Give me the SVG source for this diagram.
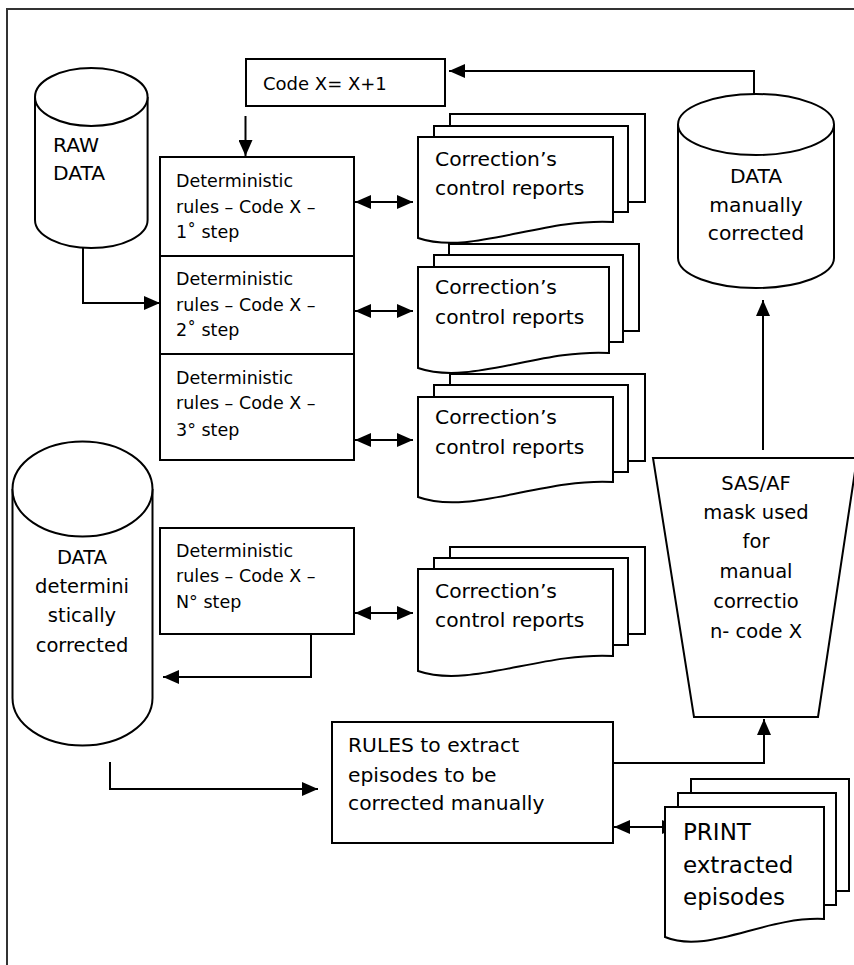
<svg xmlns="http://www.w3.org/2000/svg" width="854" height="965" viewBox="0 0 854 965">
<style>
  .s{fill:#fff;stroke:#000;stroke-width:2}
  .c{fill:none;stroke:#000;stroke-width:2}
  .t{font-family:"DejaVu Sans",sans-serif;font-size:19.5px;fill:#000}
  .r{font-size:20.3px}
  .d{font-family:"DejaVu Sans",sans-serif;font-size:17.5px;fill:#000}
  .m{text-anchor:middle}
</style>
<defs>
  <marker id="ah" viewBox="0 0 16 14" refX="16" refY="7" markerWidth="16" markerHeight="14" orient="auto-start-reverse" markerUnits="userSpaceOnUse">
    <path d="M0,0 L16,7 L0,14 Z" fill="#000"/>
  </marker>
</defs>
<rect width="854" height="965" fill="#fff"/>
<path d="M7,965 V9 H854" fill="none" stroke="#333" stroke-width="2"/>

<g id="connectors">
  <path class="c" d="M245.5,116 V156" marker-end="url(#ah)"/>
  <path class="c" d="M754,94 V71 H449" marker-end="url(#ah)"/>
  <path class="c" d="M83,243 V303 H160" marker-end="url(#ah)"/>
  <path class="c" d="M355,202 H413" marker-start="url(#ah)" marker-end="url(#ah)"/>
  <path class="c" d="M355,311 H413" marker-start="url(#ah)" marker-end="url(#ah)"/>
  <path class="c" d="M355,440 H413" marker-start="url(#ah)" marker-end="url(#ah)"/>
  <path class="c" d="M355,613 H413" marker-start="url(#ah)" marker-end="url(#ah)"/>
  <path class="c" d="M311,634 V677 H163" marker-end="url(#ah)"/>
  <path class="c" d="M110,762 V789 H318" marker-end="url(#ah)"/>
  <path class="c" d="M613,763 H764 V719" marker-end="url(#ah)"/>
  <path class="c" d="M763,450 V300" marker-end="url(#ah)"/>
  <path class="c" d="M614,827 H678" marker-start="url(#ah)" marker-end="url(#ah)"/>
</g>

<g id="code-box">
  <rect class="s" x="246" y="59" width="199" height="47"/>
  <text class="d" x="263" y="90" style="font-size:18px">Code X= X+1</text>
</g>

<g id="raw-data">
  <path class="s" d="M35,97 V220 A56.3,28 0 0 0 147.6,220 V97"/>
  <ellipse class="s" cx="91.3" cy="97" rx="56.3" ry="29"/>
  <text class="t r" x="53" y="152">RAW</text>
  <text class="t r" x="53" y="180">DATA</text>
</g>

<g id="step1">
  <rect class="s" x="160" y="157" width="194" height="99"/>
  <text class="d" x="176" y="187">Deterministic</text>
  <text class="d" x="176" y="213">rules – Code X –</text>
  <text class="d" x="176" y="238">1˚ step</text>
</g>
<g id="step2">
  <rect class="s" x="160" y="256" width="194" height="98"/>
  <text class="d" x="176" y="285">Deterministic</text>
  <text class="d" x="176" y="311">rules – Code X –</text>
  <text class="d" x="176" y="336">2˚ step</text>
</g>
<g id="step3">
  <rect class="s" x="160" y="354" width="194" height="106"/>
  <text class="d" x="176" y="384">Deterministic</text>
  <text class="d" x="176" y="409">rules – Code X –</text>
  <text class="d" x="176" y="436">3° step</text>
</g>
<g id="stepN">
  <rect class="s" x="160" y="528" width="194" height="106"/>
  <text class="d" x="176" y="557">Deterministic</text>
  <text class="d" x="176" y="582">rules – Code X –</text>
  <text class="d" x="176" y="608">N° step</text>
</g>

<g id="report4">
  <rect class="s" x="450" y="547" width="195" height="87"/>
  <rect class="s" x="434" y="558" width="194" height="87"/>
  <path class="s" d="M418,569 H613 V656 C541,652 470,689 418,671 Z"/>
  <text class="t r" x="435" y="598">Correction’s</text>
  <text class="t r" x="435" y="627">control reports</text>
</g>
<g id="report3">
  <rect class="s" x="450" y="374" width="195" height="87"/>
  <rect class="s" x="434" y="385" width="194" height="87"/>
  <path class="s" d="M418,397 H613 V482 C541,478 470,516 418,497 Z"/>
  <text class="t r" x="435" y="424">Correction’s</text>
  <text class="t r" x="435" y="454">control reports</text>
</g>
<g id="report2">
  <rect class="s" x="449" y="244" width="190" height="87"/>
  <rect class="s" x="434" y="255" width="189" height="87"/>
  <path class="s" d="M418,267 H609 V353 C539,349 470,386 418,368 Z"/>
  <text class="t r" x="435" y="294">Correction’s</text>
  <text class="t r" x="435" y="324">control reports</text>
</g>
<g id="report1">
  <rect class="s" x="450" y="114" width="195" height="88"/>
  <rect class="s" x="434" y="126" width="194" height="86"/>
  <path class="s" d="M418,137 H613 V222 C541,218 470,256 418,238 Z"/>
  <text class="t r" x="435" y="166">Correction’s</text>
  <text class="t r" x="435" y="195">control reports</text>
</g>

<g id="data-manual">
  <path class="s" d="M678,124.5 V258 A78,30 0 0 0 834,258 V124.5"/>
  <ellipse class="s" cx="756" cy="124.5" rx="78" ry="30.5"/>
  <text class="t m r" x="756" y="183">DATA</text>
  <text class="t m r" x="756" y="212">manually</text>
  <text class="t m r" x="756" y="240">corrected</text>
</g>

<g id="data-deterministic">
  <path class="s" d="M12.5,489 V698 A70,47.5 0 0 0 152.5,698 V489"/>
  <ellipse class="s" cx="82.5" cy="489" rx="70" ry="47.5"/>
  <text class="t m" x="82" y="564">DATA</text>
  <text class="t m" x="82" y="593">determini</text>
  <text class="t m" x="82" y="622">stically</text>
  <text class="t m" x="82" y="652">corrected</text>
</g>

<g id="sas-mask">
  <path class="s" d="M653,458 L857,458 L818,717 L694,717 Z"/>
  <text class="t m" x="756" y="490">SAS/AF</text>
  <text class="t m" x="756" y="519">mask used</text>
  <text class="t m" x="756" y="548">for</text>
  <text class="t m" x="756" y="578">manual</text>
  <text class="t m" x="756" y="608">correctio</text>
  <text class="t m" x="756" y="638">n- code X</text>
</g>

<g id="rules-box">
  <rect class="s" x="332" y="722" width="281" height="121"/>
  <text class="t r" x="348" y="752">RULES to extract</text>
  <text class="t r" x="348" y="782">episodes to be</text>
  <text class="t r" x="348" y="810">corrected manually</text>
</g>

<g id="print-episodes">
  <rect class="s" x="691" y="779" width="158" height="112"/>
  <rect class="s" x="678" y="793" width="158" height="112"/>
  <path class="s" d="M665,807 H824 V919 C765,916 708,955 665,937 Z"/>
  <text class="t" x="683" y="840" style="font-size:23px">PRINT</text>
  <text class="t" x="683" y="873" style="font-size:23px">extracted</text>
  <text class="t" x="683" y="905" style="font-size:23px">episodes</text>
</g>
</svg>
